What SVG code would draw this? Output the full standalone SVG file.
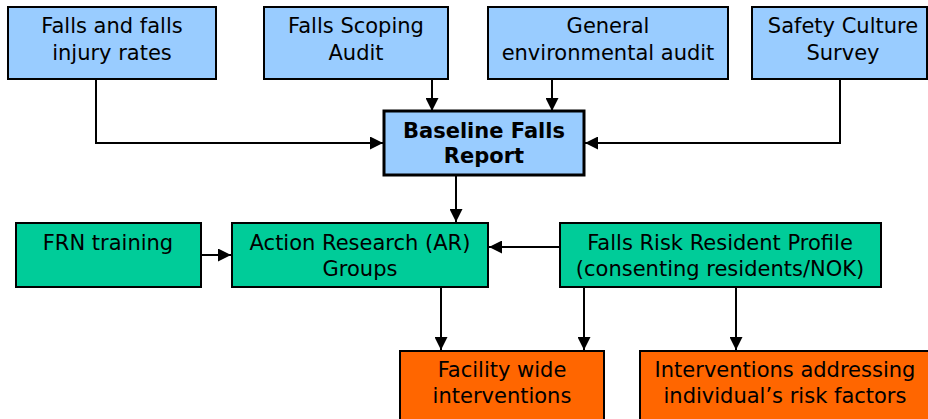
<svg xmlns="http://www.w3.org/2000/svg" width="928" height="419" viewBox="0 0 928 419">
<defs>
<marker id="ah" markerUnits="userSpaceOnUse" markerWidth="13" markerHeight="13" viewBox="0 0 13 13" refX="13" refY="6.5" orient="auto">
<path d="M0,0 L13,6.5 L0,13 Z" fill="#000"/>
</marker>
</defs>
<style>
.box{stroke:#000;stroke-width:2}
.blue{fill:#99CCFF}
.green{fill:#00CC99}
.orange{fill:#FF6600}
.t{font-family:"DejaVu Sans",Verdana,sans-serif;font-size:21px;fill:#000;text-anchor:middle}
.b{font-weight:bold}
.c{fill:none;stroke:#000;stroke-width:2;marker-end:url(#ah)}
</style>
<rect width="928" height="419" fill="#fff"/>
<g id="connectors">
<path class="c" d="M96,79 V143 H383"/>
<path class="c" d="M432,79 V111"/>
<path class="c" d="M552,79 V111"/>
<path class="c" d="M840,79 V143 H585"/>
<path class="c" d="M456,175 V222"/>
<path class="c" d="M201,255 H231"/>
<path class="c" d="M560,247 H489"/>
<path class="c" d="M441,287 V350"/>
<path class="c" d="M584,287 V350"/>
<path class="c" d="M736,287 V350"/>
</g>
<g id="n1"><rect class="box blue" x="8" y="7" width="208" height="72"/><text class="t" x="112" y="33">Falls and falls</text><text class="t" x="112" y="60">injury rates</text></g>
<g id="n2"><rect class="box blue" x="264" y="7" width="184" height="72"/><text class="t" x="356" y="33">Falls Scoping</text><text class="t" x="356" y="60">Audit</text></g>
<g id="n3"><rect class="box blue" x="488" y="7" width="240" height="72"/><text class="t" x="608" y="33">General</text><text class="t" x="608" y="60">environmental audit</text></g>
<g id="n4"><rect class="box blue" x="752" y="7" width="175" height="72"/><text class="t" x="843" y="33">Safety Culture</text><text class="t" x="843" y="60">Survey</text></g>
<g id="n5"><rect class="box blue" x="384" y="111" width="200" height="64" style="stroke-width:3"/><text class="t b" x="484" y="138">Baseline Falls</text><text class="t b" x="484" y="163">Report</text></g>
<g id="n6"><rect class="box green" x="16" y="223" width="185" height="64"/><text class="t" x="108" y="250">FRN training</text></g>
<g id="n7"><rect class="box green" x="232" y="223" width="256" height="64"/><text class="t" x="360" y="250">Action Research (AR)</text><text class="t" x="360" y="276">Groups</text></g>
<g id="n8"><rect class="box green" x="560" y="223" width="321" height="64"/><text class="t" x="720" y="250">Falls Risk Resident Profile</text><text class="t" x="720" y="276">(consenting residents/NOK)</text></g>
<g id="n9"><rect class="box orange" x="400" y="351" width="204" height="80"/><text class="t" x="502" y="377">Facility wide</text><text class="t" x="502" y="403">interventions</text></g>
<g id="n10"><rect class="box orange" x="640" y="351" width="300" height="80"/><text class="t" x="785" y="377">Interventions addressing</text><text class="t" x="785" y="403">individual’s risk factors</text></g>
</svg>
